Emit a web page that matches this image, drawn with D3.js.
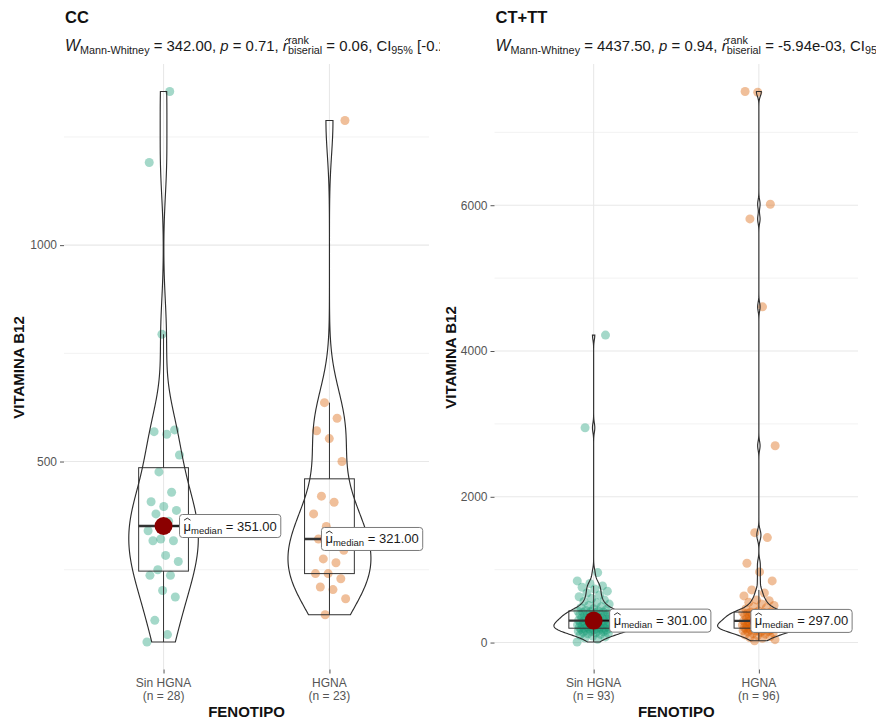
<!DOCTYPE html>
<html><head><meta charset="utf-8">
<script src="https://cdn.jsdelivr.net/npm/d3@7"></script>
<style>
body{margin:0;background:#fff;}
svg text{font-family:"Liberation Sans",Arial,Helvetica,sans-serif; white-space:pre;}
</style></head><body>
<svg id="chart" width="876" height="721"></svg>
<script>
// ---------------- data ----------------
const groups = ["Sin HGNA", "HGNA"];
const panelTitles = ["CC", "CT+TT"];
const ccSinHGNA = [83,100,133,187,202,237,237,250,269,283,317,317,321,340,362,379,387,396,407,429,476,515,563,569,573,794,1191,1355];
const ccHGNA = [146,183,204,210,229,241,241,266,275,295,310,321,330,350,379,406,420,500,553,571,600,636,1288];
const ctSinHGNA = [8,45,62,78,90,104,112,120,128,135,142,148,153,158,163,168,172,176,180,184,188,191,194,197,
  200,205,210,214,218,222,226,230,235,240,244,248,252,257,262,267,272,277,282,287,292,296,301,
  306,312,318,324,330,336,342,348,354,360,366,372,378,384,390,396,402,408,414,420,425,430,434,
  440,452,465,478,492,510,528,546,565,585,605,628,652,680,705,735,759,777,810,846,960,2947,4218];
const ctHGNA = [25,40,58,70,82,95,105,115,124,132,140,147,153,159,164,169,174,178,182,186,189,192,195,196,
  198,202,206,210,214,218,222,226,230,234,238,242,246,250,255,260,265,270,275,280,285,289,293,296,
  298,304,310,316,322,328,334,340,346,352,358,364,370,376,382,388,394,399,403,407,411,414,416,418,
  420,432,460,476,492,510,530,552,575,585,640,680,722,846,969,1088,1440,1508,2700,4606,5812,6014,7550,7560];
const ccTicks = [500, 1000];
const ccMinor = [250, 750, 1250];
const ctTicks = [0, 2000, 4000, 6000];
const ctMinor = [1000, 3000, 5000, 7000];
const statW = ["342.00", "4437.50"];
const statP = ["0.71", "0.94"];
const statR = ["0.06", "-5.94e-03"];
const statCI = ["[-0.25, 0.36]", "[-0.17, 0.16]"];
const statN = ["51", "189"];
const yTitle = "VITAMINA B12";
const xTitle = "FENOTIPO";

// ---------------- layout / style ----------------
const colors = ["#1B9E77", "#D95F02"];
const panels = [
  {data: [ccSinHGNA, ccHGNA], ticks: ccTicks, minor: ccMinor, x0: 64, x1: 429, yTitleY: 367.5, yTitleX: 23.5, clipR: 440},
  {data: [ctSinHGNA, ctHGNA], ticks: ctTicks, minor: ctMinor, x0: 494.5, x1: 858, yTitleY: 357.5, yTitleX: 455.5, clipR: 876}
];
const Y0 = 64, Y1 = 669.5;
const svg = d3.select("#chart");
svg.append("rect").attr("width", 876).attr("height", 721).attr("fill", "#fff");
const defs = svg.append("defs");

function bwNrd0(v) {
  const s = v.slice().sort(d3.ascending);
  const sd = d3.deviation(s);
  const iqr = d3.quantile(s, 0.75) - d3.quantile(s, 0.25);
  let lo = Math.min(sd, iqr / 1.34);
  if (!(lo > 0)) lo = sd || 1;
  return 0.9 * lo * Math.pow(v.length, -0.2);
}
function kde(v, bw, ys) {
  const c = 1 / (v.length * bw * Math.sqrt(2 * Math.PI));
  return ys.map(y => [y, c * d3.sum(v, x => Math.exp(-0.5 * ((y - x) / bw) ** 2))]);
}
function rich(g, x, y, parts) {
  let cx = x;
  parts.forEach(p => {
    const items = p.stack ? p.stack : [p];
    let w = 0;
    items.forEach(s => {
      const t = g.append("text").attr("x", cx).attr("y", y + (s.dy || 0))
        .attr("font-size", s.size).attr("fill", s.fill || "#1a1a1a")
        .attr("font-style", s.italic ? "italic" : null).text(s.t);
      const tw = t.node().getComputedTextLength();
      w = Math.max(w, tw);
      if (s.hat) {
        const top = y + (s.dy || 0) - s.size * s.hat;
        const sk = s.italic ? s.size * 0.12 : 0;
        g.append("path")
          .attr("d", `M${cx + 0.5 + sk},${top + s.size * 0.16} L${cx + tw / 2 + sk},${top} L${cx + tw - 0.5 + sk},${top + s.size * 0.16}`)
          .attr("fill", "none").attr("stroke", s.fill || "#1a1a1a").attr("stroke-width", 0.9);
      }
    });
    cx += w;
  });
  return cx;
}

panels.forEach((P, pi) => {
  const g = svg.append("g");
  const x = d3.scalePoint().domain(groups).range([P.x0, P.x1]).padding(0.6);
  const unit = x.step();
  const all = P.data.flat();
  const ext = d3.extent(all);
  const r = ext[1] - ext[0];
  const y = d3.scaleLinear().domain([ext[0] - 0.05 * r, ext[1] + 0.05 * r]).range([Y1, Y0]);

  // grid
  g.selectAll(".minor").data(P.minor).join("line")
    .attr("x1", P.x0).attr("x2", P.x1).attr("y1", d => y(d)).attr("y2", d => y(d))
    .attr("stroke", "#f1f1f1").attr("stroke-width", 0.9);
  g.selectAll(".major").data(P.ticks).join("line")
    .attr("x1", P.x0).attr("x2", P.x1).attr("y1", d => y(d)).attr("y2", d => y(d))
    .attr("stroke", "#e8e8e8").attr("stroke-width", 1.1);
  g.selectAll(".vgrid").data(groups).join("line")
    .attr("x1", d => x(d)).attr("x2", d => x(d)).attr("y1", Y0).attr("y2", Y1)
    .attr("stroke", "#e8e8e8").attr("stroke-width", 1.1);

  // axes
  const ya = g.append("g").attr("transform", `translate(${P.x0},0)`)
    .call(d3.axisLeft(y).tickValues(P.ticks).tickSize(4).tickPadding(3).tickFormat(d3.format("d")));
  ya.select(".domain").remove();
  ya.selectAll("line").attr("stroke", "#555");
  ya.selectAll("text").attr("font-size", 12).attr("fill", "#555")
    .style("font-family", '"Liberation Sans",Arial,sans-serif');
  const xa = g.append("g").attr("transform", `translate(0,${Y1})`)
    .call(d3.axisBottom(x).tickSize(4).tickPadding(4).tickFormat(""));
  xa.select(".domain").remove();
  xa.selectAll("line").attr("stroke", "#555");
  groups.forEach((gr, gi) => {
    const t = g.append("text").attr("x", x(gr)).attr("y", 687).attr("text-anchor", "middle")
      .attr("font-size", 12).attr("fill", "#555");
    t.append("tspan").attr("x", x(gr)).attr("y", 687).text(gr);
    t.append("tspan").attr("x", x(gr)).attr("y", 699.5).text(`(n = ${P.data[gi].length})`);
  });
  g.append("text").attr("x", (P.x0 + P.x1) / 2).attr("y", 716.5).attr("text-anchor", "middle")
    .attr("font-size", 15).attr("font-weight", "bold").attr("fill", "#111").text(xTitle);
  g.append("text").attr("transform", `translate(${P.yTitleX},${P.yTitleY}) rotate(-90)`)
    .attr("text-anchor", "middle").attr("font-size", 15).attr("font-weight", "bold")
    .attr("fill", "#111").text(yTitle);

  // title + subtitle
  g.append("text").attr("x", P.x0 + 1).attr("y", 23).attr("font-size", 16.5)
    .attr("font-weight", "bold").attr("fill", "#111").text(panelTitles[pi]);
  const cid = "clip" + pi;
  defs.append("clipPath").attr("id", cid).append("rect")
    .attr("x", P.x0 - 10).attr("y", 26).attr("width", P.clipR - P.x0 + 10).attr("height", 34);
  const sg = g.append("g").attr("clip-path", `url(#${cid})`);
  const S = 14.9, s = 10.8;
  rich(sg, P.x0 + 1, 50.5, [
    {t: "W", size: 15.8, italic: true},
    {t: "Mann-Whitney", size: s, dy: 3.8},
    {t: ` = ${statW[pi]}, `, size: S},
    {t: "p", size: S, italic: true},
    {t: ` = ${statP[pi]}, `, size: S},
    {t: "r", size: S + 0.5, italic: true, hat: 0.78},
    {stack: [{t: "rank", size: s, dy: -6.5}, {t: "biserial", size: s, dy: 3.8}]},
    {t: ` = ${statR[pi]}, CI`, size: S},
    {t: "95%", size: s, dy: 3.8},
    {t: ` ${statCI[pi]}, `, size: S},
    {t: "n", size: S, italic: true},
    {t: "obs", size: s, dy: 3.8},
    {t: ` = ${statN[pi]}`, size: S}
  ]);

  // densities
  const dens = P.data.map(v => {
    const e = d3.extent(v);
    const ys = d3.range(512).map(i => e[0] + (e[1] - e[0]) * i / 511);
    return kde(v, bwNrd0(v), ys);
  });
  const maxD = d3.max(dens.flat(), d => d[1]);
  const halfMax = 0.25 * unit;

  groups.forEach((gr, gi) => {
    const v = P.data[gi];
    const cx = x(gr);
    // points (deterministic jitter)
    g.append("g").selectAll("circle").data(v).join("circle")
      .attr("cx", (d, i) => cx + (((i * 0.6180339887 + 0.37 * gi) % 1) * 2 - 1) * 0.1 * unit)
      .attr("cy", d => y(d)).attr("r", 4.5)
      .attr("fill", colors[gi]).attr("fill-opacity", 0.4);
  });

  groups.forEach((gr, gi) => {
    const v = P.data[gi].slice().sort(d3.ascending);
    const cx = x(gr);
    const q1 = d3.quantile(v, 0.25), med = d3.quantile(v, 0.5), q3 = d3.quantile(v, 0.75);
    const iqr = q3 - q1;
    const hi = d3.max(v.filter(d => d <= q3 + 1.5 * iqr));
    const lo = d3.min(v.filter(d => d >= q1 - 1.5 * iqr));
    const bw = 0.15 * unit;
    const col = "#333";
    g.append("line").attr("x1", cx).attr("x2", cx).attr("y1", y(q3)).attr("y2", y(hi)).attr("stroke", col).attr("stroke-width", 1);
    g.append("line").attr("x1", cx).attr("x2", cx).attr("y1", y(q1)).attr("y2", y(lo)).attr("stroke", col).attr("stroke-width", 1);
    g.append("rect").attr("x", cx - bw).attr("width", 2 * bw).attr("y", y(q3)).attr("height", y(q1) - y(q3))
      .attr("fill", "none").attr("stroke", col).attr("stroke-width", 1);
    // violin
    const d = dens[gi];
    const right = d.map(p => [cx + p[1] / maxD * halfMax, y(p[0])]);
    const left = d.slice().reverse().map(p => [cx - p[1] / maxD * halfMax, y(p[0])]);
    g.append("path").attr("d", d3.line()(right.concat(left)) + "Z")
      .attr("fill", "none").attr("stroke", "#2e2e2e").attr("stroke-width", 1.15);
    // median line
    g.append("line").attr("x1", cx - bw).attr("x2", cx + bw).attr("y1", y(med)).attr("y2", y(med))
      .attr("stroke", "#333").attr("stroke-width", 2.4);
  });

  groups.forEach((gr, gi) => {
    const v = P.data[gi].slice().sort(d3.ascending);
    const cx = x(gr);
    const med = d3.quantile(v, 0.5);
    const my = y(med);
    const lx = cx + (gi === 0 ? 16 : -8);
    g.append("line").attr("x1", cx).attr("x2", lx).attr("y1", my).attr("y2", my)
      .attr("stroke", "#111").attr("stroke-width", 1);
    g.append("circle").attr("cx", cx).attr("cy", my).attr("r", 9).attr("fill", "#8B0000");
    const lg = g.append("g");
    const rect = lg.append("rect");
    const end = rich(lg, lx + 4, my + 4.5, [
      {t: "\u03BC", size: 13, hat: 0.95},
      {t: "median", size: 9.5, dy: 3},
      {t: ` = ${d3.format(".2f")(med)}`, size: 13}
    ]);
    rect.attr("x", lx).attr("y", my - 11.5).attr("width", end - lx + 4).attr("height", 23)
      .attr("rx", 3).attr("fill", "#fff").attr("stroke", "#7a7a7a").attr("stroke-width", 1);
  });
});
</script>
</body></html>
